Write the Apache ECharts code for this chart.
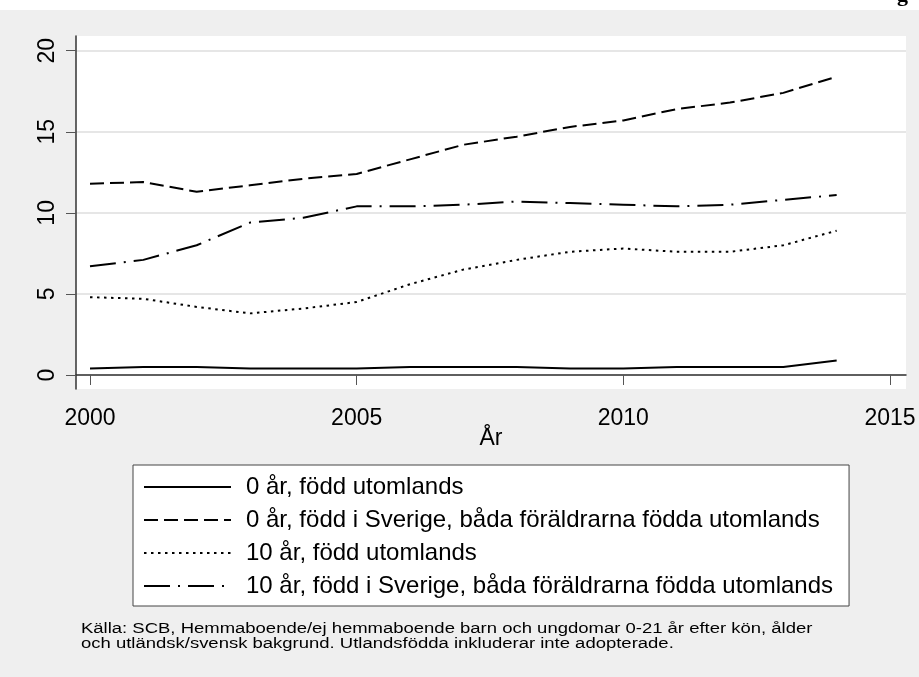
<!DOCTYPE html>
<html>
<head>
<meta charset="utf-8">
<script src="https://cdn.jsdelivr.net/npm/echarts@6/dist/echarts.min.js"></script>
<style>html,body{margin:0;padding:0;background:#efefef;}#c{width:919px;height:677px;}</style>
</head>
<body>
<div id="c"></div>
<script>
const years = [2000,2001,2002,2003,2004,2005,2006,2007,2008,2009,2010,2011,2012,2013,2014];
const s0Utl = [0.4,0.5,0.5,0.4,0.4,0.4,0.5,0.5,0.5,0.4,0.4,0.5,0.5,0.5,0.9];
const s0Sve = [11.8,11.9,11.3,11.7,12.1,12.4,13.3,14.2,14.7,15.3,15.7,16.4,16.8,17.4,18.4];
const s10Utl = [4.8,4.7,4.2,3.8,4.1,4.5,5.6,6.5,7.1,7.6,7.8,7.6,7.6,8.0,8.9];
const s10Sve = [6.7,7.1,8.0,9.4,9.7,10.4,10.4,10.5,10.7,10.6,10.5,10.4,10.5,10.8,11.1];
const seriesNames = [
  '0 år, född utomlands',
  '0 år, född i Sverige, båda föräldrarna födda utomlands',
  '10 år, född utomlands',
  '10 år, född i Sverige, båda föräldrarna födda utomlands'
];
const xTicks = [2000,2005,2010,2015];
const yTicks = [0,5,10,15,20];
const xTitle = 'År';
const note = 'Källa: SCB, Hemmaboende/ej hemmaboende barn och ungdomar 0-21 år efter kön, ålder\noch utländsk/svensk bakgrund. Utlandsfödda inkluderar inte adopterade.';

const FONT = 'Liberation Sans, Arial, sans-serif';
const pair = arr => years.map((y,i)=>[y,arr[i]]);
const dashes = ['solid',[14,6],[2.5,4.5],[26,8,2,8]];
const dataSets = [s0Utl,s0Sve,s10Utl,s10Sve];

const chart = echarts.init(document.getElementById('c'));
chart.setOption({
  backgroundColor: '#efefef',
  animation: false,
  textStyle: {fontFamily: FONT},
  graphic: [
    {type:'rect', shape:{x:0,y:0,width:919,height:10}, style:{fill:'#ffffff'}, z:-10},
    {type:'text', x:897, y:-5, style:{text:'g', font:'bold 22px "Liberation Serif", serif', fill:'#000', verticalAlign:'middle'}},
    {type:'text', x:81, y:622, scaleX:1.32, style:{text:note, font:'14px ' + FONT, fill:'#000', lineHeight:15}}
  ],
  grid: {left:76, right:13, top:36, bottom:288, show:true, backgroundColor:'#ffffff', borderWidth:0},
  xAxis: {
    type:'value', min:1999.7375, max:2015.3,
    name: xTitle, nameLocation:'middle', nameGap:38, nameMoveOverlap:false,
    nameTextStyle:{fontSize:23, color:'#000', fontFamily:FONT},
    axisLine:{show:true, lineStyle:{color:'#333', width:1.5}},
    axisTick:{show:true, length:10, customValues:xTicks, lineStyle:{color:'#555', width:1}},
    axisLabel:{customValues:xTicks, fontSize:23, color:'#000', margin:18, fontFamily:FONT, formatter: v => String(v)},
    splitLine:{show:false}
  },
  yAxis: {
    type:'value', min:-0.864, max:20.907,
    axisLine:{show:true, lineStyle:{color:'#333', width:1.5}},
    axisTick:{show:true, length:10, customValues:yTicks, lineStyle:{color:'#555', width:1}},
    axisLabel:{customValues:yTicks, fontSize:23, color:'#000', margin:17, rotate:90, fontFamily:FONT, formatter: v => String(v)},
    splitLine:{show:true, lineStyle:{color:'#e6e6e6', width:2}}
  },
  legend: {
    orient:'vertical', left:133, top:465,
    itemWidth:87, itemHeight:14, itemGap:9,
    padding:[10,16,8,10],
    borderColor:'#444', borderWidth:1, backgroundColor:'#ffffff',
    itemStyle:{color:'rgba(0,0,0,0)', borderColor:'rgba(0,0,0,0)', borderWidth:0},
    textStyle:{fontSize:24, lineHeight:24, color:'#000', fontFamily:FONT, padding:[0,0,0,10]},
    data: seriesNames
  },
  series: dataSets.map((d,i)=>({
    name: seriesNames[i], type:'line', data: pair(d),
    showSymbol:false, symbol:'none',
    lineStyle:{color:'#000', width:2, type:dashes[i]},
    itemStyle:{color:'#000'}
  }))
});
</script>
</body>
</html>
